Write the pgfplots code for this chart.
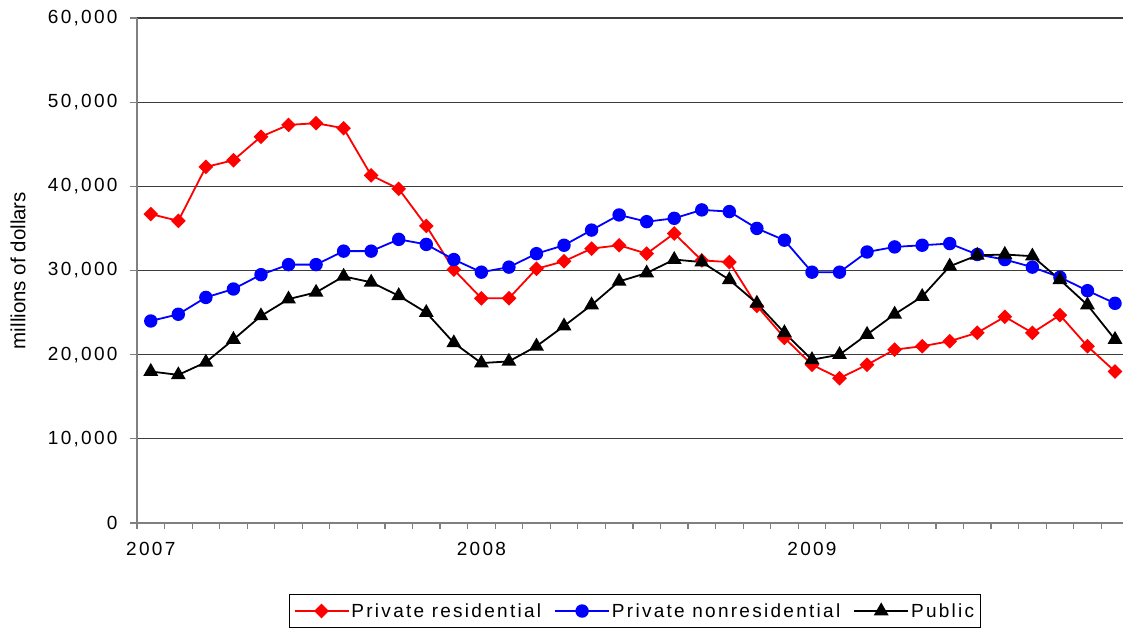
\documentclass[border=0pt]{standalone}
\usepackage{pgfplots}
\pgfplotsset{compat=1.18}
\usepackage{pgfplotstable}
\usepackage{fontspec}
\setmainfont{Liberation Sans}
\newfontfamily\spfont[LetterSpace=12]{Liberation Sans}
\definecolor{gridc}{RGB}{60,60,60}
\definecolor{axc}{RGB}{128,128,128}

\pgfplotstableread{
k res nonres pub
0 36700 24000 18000
1 35900 24800 17600
2 42300 26800 19100
3 43100 27800 21800
4 45900 29500 24600
5 47300 30700 26600
6 47500 30700 27400
7 46900 32300 29300
8 41300 32300 28600
9 39700 33700 27000
10 35300 33100 25000
11 30100 31300 21400
12 26700 29800 19000
13 26700 30400 19200
14 30200 32000 21000
15 31100 33000 23400
16 32600 34800 25900
17 33000 36600 28700
18 32000 35800 29700
19 34400 36200 31300
20 31200 37200 31000
21 31000 37000 28900
22 25800 35000 26100
23 22000 33600 22600
24 18800 29800 19400
25 17200 29800 20000
26 18800 32200 22400
27 20600 32800 24800
28 21000 33000 26900
29 21600 33200 30500
30 22600 31900 31800
31 24500 31300 31900
32 22600 30400 31700
33 24700 29200 28900
34 21000 27600 25900
35 18000 26100 21800
}\datatable

\begin{document}
\begin{tikzpicture}[x=1pt,y=1pt]
\useasboundingbox (0,0) rectangle (1123,631);
\begin{axis}[
  at={(137pt,108pt)}, anchor=south west,
  scale only axis,
  width=986pt, height=505pt,
  xmin=-0.5, xmax=35.29,
  ymin=0, ymax=60000,
  clip=false,
  axis lines=left,
  axis line style={-, draw=axc, line width=1.2pt},
  tick align=outside,
  xtick={0,12,24},
  xticklabels={2007,2008,2009},
  major x tick style={draw=none},
  minor xtick={-0.5,0.5,...,34.5},
  minor tick length=6pt,
  minor x tick style={draw=axc, line width=1.2pt},
  x tick label style={font=\spfont\fontsize{19}{21}\selectfont, yshift=-9pt},
  ytick={0,10000,...,60000},
  major tick length=7pt,
  y tick style={draw=axc, line width=1.2pt},
  y tick label style={font=\spfont\fontsize{19}{21}\selectfont, xshift=-9pt},
  /pgf/number format/assume math mode=true,
  /pgf/number format/1000 sep={,},
  scaled y ticks=false,
  ymajorgrids,
  y grid style={draw=gridc, line width=1.2pt},
  ylabel={millions of dollars},
  ylabel style={at={(axis description cs:-0.1207,0.5)}, anchor=center, font=\fontsize{20.5}{22}\selectfont},
  legend columns=3,
  legend style={at={(axis description cs:0.505,-0.1406)}, anchor=north,
    draw=black, line width=0.8pt, font=\spfont\fontsize{19}{21}\selectfont,
    inner xsep=4pt, inner ysep=7pt,
    /tikz/every even column/.append style={column sep=11pt}},
  legend image code/.code={\draw[mark repeat=2,mark phase=2,#1] plot coordinates {(0pt,0pt)(27pt,0pt)(54pt,0pt)};},
]
\addplot[red, line width=1.8pt, mark=square*, mark size=4.3pt, mark options={rotate=45, solid, fill=red}] table[x=k, y=res] {\datatable};
\addlegendentry{Private residential}
\addplot[blue, line width=1.8pt, mark=*, mark size=5.8pt, mark options={solid, fill=blue}] table[x=k, y=nonres] {\datatable};
\addlegendentry{Private nonresidential}
\addplot[black, line width=1.8pt, mark=triangle*, mark size=6.8pt, mark options={solid, fill=black}] table[x=k, y=pub] {\datatable};
\addlegendentry{Public}
\end{axis}
\end{tikzpicture}
\end{document}
